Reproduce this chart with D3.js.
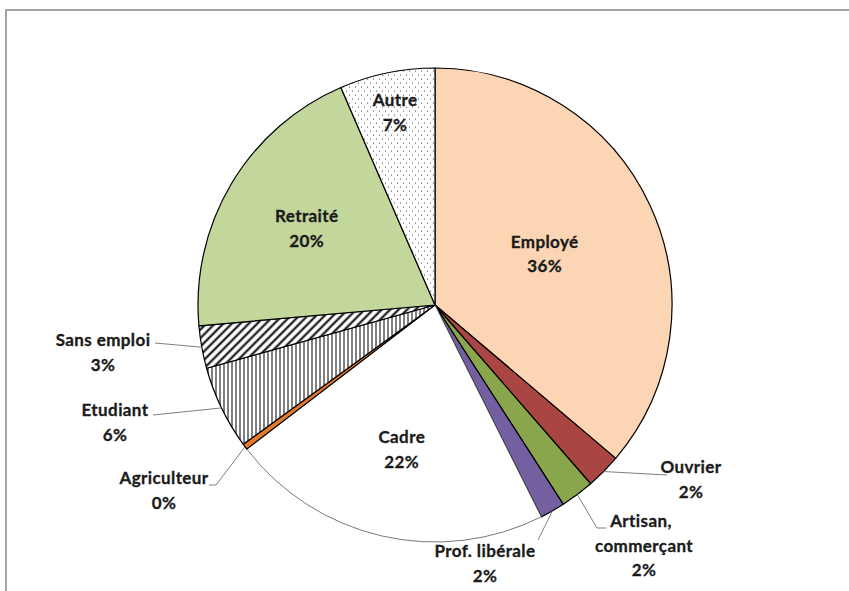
<!DOCTYPE html>
<html>
<head>
<meta charset="utf-8">
<script src="https://cdn.jsdelivr.net/npm/d3@7"></script>
<style>
  body { margin: 0; background: #fff; }
  text { font-family: "Lato", "Open Sans", sans-serif; font-weight: 700; font-size: 17px;
         letter-spacing: 0.4px; fill: #1a1a1a; stroke: #1a1a1a; stroke-width: 0.3px; }
</style>
</head>
<body>
<svg id="chart" width="849" height="591"></svg>
<script>
// categories, clockwise from 12 o'clock
var categories = ['Employé', 'Ouvrier', 'Artisan, commerçant', 'Prof. libérale', 'Cadre',
                  'Agriculteur', 'Etudiant', 'Sans emploi', 'Retraité', 'Autre'];
// shares in %
var shares = [36.2, 2.4, 2.3, 1.7, 22.0, 0.4, 5.7, 2.9, 19.9, 6.5];
// label lines as they appear
var labelLines = [['Employé'], ['Ouvrier'], ['Artisan,', 'commerçant'], ['Prof. libérale'], ['Cadre'],
                  ['Agriculteur'], ['Etudiant'], ['Sans emploi'], ['Retraité'], ['Autre']];

var fills = ['#fcd5b5', '#a94543', '#8aa64c', '#7460a0', '#ffffff',
             '#e47a2a', 'url(#vlines)', 'url(#diag)', '#c3d69b', 'url(#dots)'];

// label layout: inside labels use a radius factor, outside ones a text position + leader elbow
var layout = {
  'Employé':  {inside: 0.51},
  'Cadre':    {inside: 0.625},
  'Retraité': {inside: 0.63},
  'Autre':    {inside: 0.83},
  'Ouvrier':  {x: 691, y: 473, pts: [[667, 475]]},
  'Artisan, commerçant': {x: 644, y: 527, pts: [[597, 528], [606, 528]], firstX: 641},
  'Prof. libérale': {x: 485, y: 557, pts: [[538, 540]]},
  'Agriculteur': {x: 164, y: 484, pts: [[216, 485], [209, 485]]},
  'Etudiant': {x: 115, y: 416, pts: [[153, 415]]},
  'Sans emploi': {x: 103, y: 346, pts: [[155, 343]]}
};

var cx = 435, cy = 305, radius = 237, lineGap = 24.5;

var svg = d3.select('#chart');

// frame
svg.append('rect')
    .attr('x', 6).attr('y', 10)
    .attr('width', 900).attr('height', 700)
    .attr('fill', 'none')
    .attr('stroke', '#8c8c8c')
    .attr('stroke-width', 1.6);

// patterns
var defs = svg.append('defs');
var dots = defs.append('pattern').attr('id', 'dots')
    .attr('patternUnits', 'userSpaceOnUse').attr('width', 6).attr('height', 8);
dots.append('rect').attr('width', 6).attr('height', 8).attr('fill', '#fff');
dots.append('circle').attr('cx', 1.5).attr('cy', 2).attr('r', 0.6).attr('fill', '#333');
dots.append('circle').attr('cx', 4.5).attr('cy', 6).attr('r', 0.6).attr('fill', '#333');

var vl = defs.append('pattern').attr('id', 'vlines')
    .attr('patternUnits', 'userSpaceOnUse').attr('width', 4).attr('height', 4);
vl.append('rect').attr('width', 4).attr('height', 4).attr('fill', '#fff');
vl.append('line').attr('x1', 1).attr('x2', 1).attr('y1', 0).attr('y2', 4)
    .attr('stroke', '#000').attr('stroke-width', 1);

var dg = defs.append('pattern').attr('id', 'diag')
    .attr('patternUnits', 'userSpaceOnUse').attr('width', 6).attr('height', 6)
    .attr('patternTransform', 'rotate(45)');
dg.append('rect').attr('width', 6).attr('height', 6).attr('fill', '#fff');
dg.append('line').attr('x1', 1.5).attr('x2', 1.5).attr('y1', 0).attr('y2', 6)
    .attr('stroke', '#000').attr('stroke-width', 2);

var data = categories.map(function(c, i) {
  return {name: c, value: shares[i], fill: fills[i], lines: labelLines[i]};
});

var pie = d3.pie().sort(null).value(function(d) { return d.value; });
var arc = d3.arc().innerRadius(0).outerRadius(radius);
var arcs = pie(data);

var g = svg.append('g').attr('transform', 'translate(' + cx + ',' + cy + ')');

g.selectAll('path.slice')
  .data(arcs).enter()
  .append('path')
    .attr('class', 'slice')
    .attr('d', arc)
    .attr('fill', function(d) { return d.data.fill; })
    .attr('stroke', function(d) { return d.data.name == 'Cadre' ? '#555' : '#000'; })
    .attr('stroke-width', function(d) { return d.data.name == 'Cadre' ? 0.8 : 1.2; })
    .attr('stroke-linejoin', 'round');

function midAngle(d) { return (d.startAngle + d.endAngle) / 2; }
function pointAt(a, r) { return [cx + r * Math.sin(a), cy - r * Math.cos(a)]; }

// leader lines
arcs.forEach(function(d) {
  var L = layout[d.data.name];
  if (L.inside) return;
  var pts = [pointAt(midAngle(d), radius)].concat(L.pts);
  svg.append('path')
      .attr('d', d3.line()(pts))
      .attr('fill', 'none')
      .attr('stroke', '#7f7f7f')
      .attr('stroke-width', 1);
});

// labels
arcs.forEach(function(d) {
  var L = layout[d.data.name];
  var lines = d.data.lines.concat([Math.round(d.data.value) + '%']);
  var x, y0;
  if (L.inside) {
    var p = pointAt(midAngle(d), radius * L.inside);
    x = p[0];
    y0 = p[1] - (lines.length - 1) * lineGap / 2 + 6;
  } else {
    x = L.x; y0 = L.y;
  }
  var t = svg.append('text').attr('text-anchor', 'middle');
  lines.forEach(function(s, i) {
    t.append('tspan')
      .attr('x', (i == 0 && L.firstX) ? L.firstX : x)
      .attr('y', y0 + i * lineGap)
      .text(s);
  });
});
</script>
</body>
</html>
